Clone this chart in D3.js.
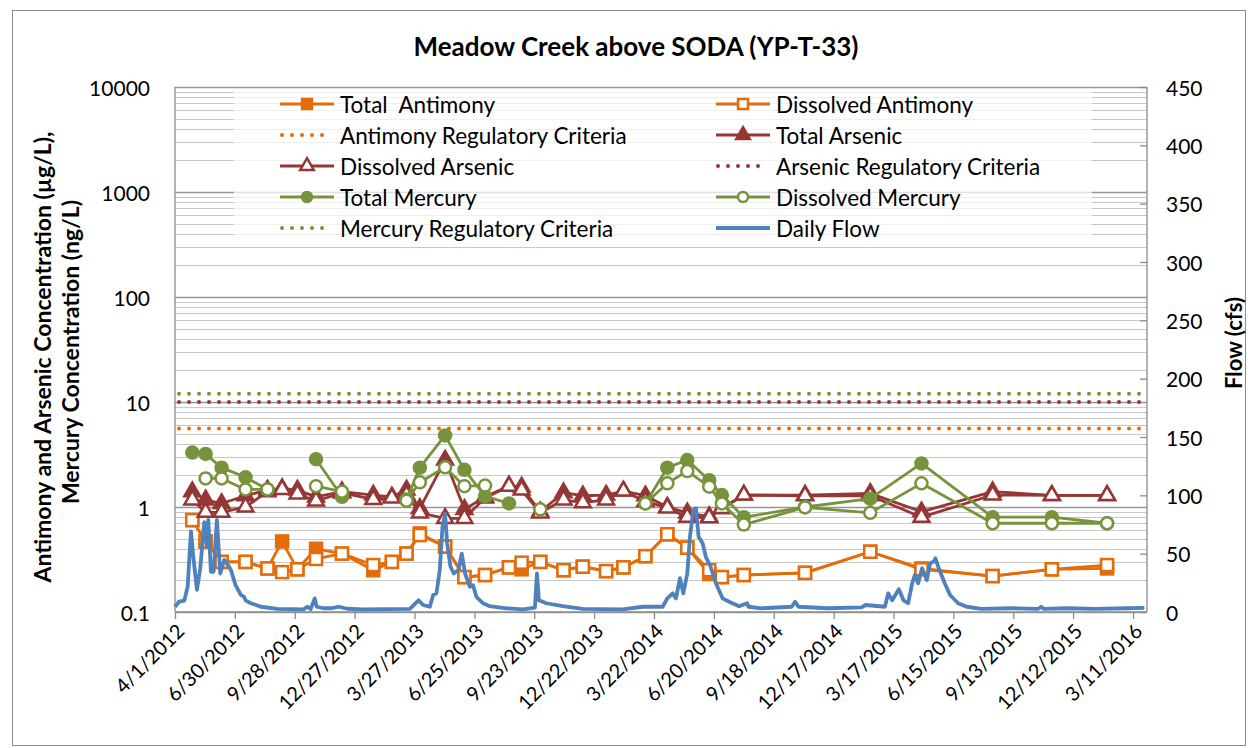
<!DOCTYPE html>
<html>
<head>
<meta charset="utf-8">
<script src="https://d3js.org/d3.v7.min.js"></script>
<style>
  body { margin: 0; background: #fff; }
  text { font-family: Lato, "Open Sans", sans-serif; fill: #000; }
</style>
</head>
<body>
<svg id="grafico" width="1248" height="748"></svg>
<script>
// Datos
var fechasMuestreo = ["2012-04-27","2012-05-17","2012-06-10","2012-07-16","2012-08-18","2012-09-09","2012-10-02","2012-10-30","2012-12-08",
  "2013-01-24","2013-02-21","2013-03-15","2013-04-04","2013-05-12","2013-06-10","2013-07-11","2013-08-16","2013-09-04","2013-10-02",
  "2013-11-06","2013-12-05","2014-01-09","2014-02-04","2014-03-09","2014-04-11","2014-05-11","2014-06-13","2014-07-02","2014-08-04",
  "2014-11-04","2015-02-10","2015-04-28","2015-08-13","2015-11-10","2016-02-01"];
var totalSb =     [0.75,0.47,0.30,0.30,0.26,0.47,0.255,0.40,0.36,0.25,0.30,0.36,0.56,0.42,0.215,0.225,0.266,0.255,0.30,0.25,0.27,0.245,0.266,0.34,0.55,0.41,0.23,0.215,0.225,0.236,0.375,0.26,0.22,0.255,0.26];
var disueltoSb =  [0.75,0.47,0.30,0.30,0.26,0.24,0.255,0.32,0.36,0.28,0.30,0.36,0.54,0.42,0.215,0.225,0.266,0.295,0.30,0.25,0.27,0.245,0.266,0.34,0.55,0.41,0.25,0.215,0.225,0.236,0.375,0.255,0.22,0.255,0.28];
var totalAs =     [1.4,1.17,1.08,1.28,1.45,1.5,1.45,1.25,1.4,1.3,1.25,1.45,0.97,2.8,0.95,1.25,1.58,1.55,0.9,1.37,1.28,1.3,1.42,1.28,1.0,0.88,0.81,0.97,1.3,1.3,1.35,0.9,1.4,1.29,1.29];
var disueltoAs =  [1.17,0.89,0.89,1.0,1.4,1.47,1.33,1.14,1.36,1.18,1.22,1.3,0.88,0.78,0.78,1.22,1.58,1.45,0.88,1.17,1.1,1.17,1.42,1.13,0.98,0.8,0.79,0.97,1.3,1.28,1.28,0.8,1.3,1.29,1.29];
var totalHg =     [3.3,3.2,2.37,1.92,1.47,null,null,2.85,1.25,null,null,1.18,2.37,4.8,2.26,1.27,1.08,null,null,null,null,null,null,1.08,2.37,2.8,1.8,1.3,0.8,1.0,1.2,2.6,0.8,0.8,0.7];
var disueltoHg =  [null,1.87,1.87,1.47,1.47,null,null,1.58,1.4,null,null,1.15,1.72,2.39,1.58,1.6,null,null,0.95,null,null,null,null,1.08,1.68,2.2,1.56,1.08,0.68,0.99,0.88,1.68,0.7,0.7,0.7];
var criterioSb = 5.6, criterioAs = 10, criterioHg = 12;

var fechasCaudal = ["2012-04-01","2012-04-07","2012-04-15","2012-04-20","2012-04-25","2012-04-29","2012-05-04","2012-05-09","2012-05-15",
  "2012-05-19","2012-05-21","2012-05-25","2012-05-29","2012-06-03","2012-06-08","2012-06-14","2012-06-20","2012-06-24","2012-07-01",
  "2012-07-09","2012-07-14","2012-07-16","2012-07-24","2012-08-08","2012-09-02","2012-10-11","2012-10-17","2012-10-22","2012-10-28",
  "2012-10-31","2012-11-10","2012-11-21","2012-12-03","2012-12-16","2013-01-09","2013-03-20","2013-04-02","2013-04-09","2013-04-19",
  "2013-04-24","2013-04-29","2013-05-04","2013-05-08","2013-05-12","2013-05-15","2013-05-20","2013-05-25","2013-06-01","2013-06-06",
  "2013-06-11","2013-06-18","2013-06-23","2013-06-28","2013-07-08","2013-07-18","2013-08-12","2013-09-06","2013-09-24","2013-09-27",
  "2013-09-30","2013-10-11","2013-11-05","2013-12-05","2014-02-03","2014-03-05","2014-04-04","2014-04-11","2014-04-19","2014-04-24",
  "2014-04-30","2014-05-05","2014-05-11","2014-05-15","2014-05-20","2014-05-24","2014-05-28","2014-06-03","2014-06-08","2014-06-15",
  "2014-06-23","2014-07-03","2014-07-13","2014-07-28","2014-08-09","2014-08-11","2014-08-31","2014-10-15","2014-10-20","2014-10-25",
  "2014-12-09","2015-01-28","2015-02-03","2015-03-04","2015-03-09","2015-03-15","2015-03-25","2015-04-01","2015-04-08","2015-04-14",
  "2015-04-18","2015-04-23","2015-04-29","2015-05-06","2015-05-11","2015-05-16","2015-05-19","2015-05-24","2015-06-02","2015-06-10",
  "2015-06-22","2015-07-05","2015-07-27","2015-09-10","2015-10-20","2015-10-25","2015-10-29","2015-12-04","2016-01-13","2016-03-03","2016-03-28"];
var caudal = [4.5,8.8,9.7,21.7,69,44.6,19,37.5,77,56,79,34.5,34.5,79,33,44.6,40,36,23,14.6,13,10,7.5,4.5,2.6,2.3,4.5,2.5,11.7,
  4.5,3.2,3.2,4.5,2.8,2.3,2.6,10,6,4.5,14.6,16,36,73,84,59,39,33,36,50,33,21.7,23,13,7.5,5,3.2,2.3,3.7,33,10,7.5,5,2.6,
  2.3,4.5,4.5,11.7,16,11.7,29,16,33,64.5,87,89,64.5,59,47,39,24.6,11.7,8.8,5,7.5,4.5,3.2,4.5,8.8,4.5,3.2,4,6,4.5,16,10,
  19.5,10,7.5,24.6,31.7,24.6,37.5,27.4,41.7,43,46,37.5,24.6,14.6,7.5,4.5,2.6,3.2,2.6,4.5,2.6,3.2,2.6,3.2,3.5];

var etiquetasX = ["4/1/2012","6/30/2012","9/28/2012","12/27/2012","3/27/2013","6/25/2013","9/23/2013","12/22/2013","3/22/2014",
  "6/20/2014","9/18/2014","12/17/2014","3/17/2015","6/15/2015","9/13/2015","12/12/2015","3/11/2016"];
var ticksIzq = [0.1, 1, 10, 100, 1000, 10000];
var ticksDer = [0, 50, 100, 150, 200, 250, 300, 350, 400, 450];

// Colores de Excel
var naranja = "#E46C0A", granate = "#953735", verde = "#77933C", azul = "#4F81BD";

var svg = d3.select("#grafico");
var izq = 175, der = 1147, arriba = 87, abajo = 612;

var parseISO = d3.timeParse("%Y-%m-%d");
var parseMDY = d3.timeParse("%-m/%-d/%Y");

var x = d3.scaleTime().domain([parseISO("2012-04-01"), parseISO("2016-04-01")]).range([izq, der]);
var y = d3.scaleLog().domain([0.1, 10000]).range([abajo, arriba]);
var y2 = d3.scaleLinear().domain([0, 450]).range([abajo, arriba]);

// Borde del gráfico
svg.append("rect").attr("x", 12.5).attr("y", 10.5).attr("width", 1233).attr("height", 735)
  .attr("fill", "#fff").attr("stroke", "#8c8c8c").attr("stroke-width", 1);

// Rejilla logarítmica
var rejilla = svg.append("g");
var menores = [];
for (var e = -1; e < 4; e++) for (var k = 2; k <= 9; k++) menores.push(k * Math.pow(10, e));
rejilla.selectAll("line.menor").data(menores).enter().append("line")
  .attr("x1", izq).attr("x2", der)
  .attr("y1", d => Math.round(y(d)) + 0.5).attr("y2", d => Math.round(y(d)) + 0.5)
  .attr("stroke", "#c8c8c8").attr("stroke-width", 1);
rejilla.selectAll("line.mayor").data(ticksIzq).enter().append("line")
  .attr("x1", izq).attr("x2", der)
  .attr("y1", d => Math.round(y(d)) + 0.5).attr("y2", d => Math.round(y(d)) + 0.5)
  .attr("stroke", "#969696").attr("stroke-width", 1.5);

// Ejes
var ejeX = d3.axisBottom(x).tickValues(etiquetasX.map(parseMDY)).tickSize(7).tickFormat("");
var gX = svg.append("g").attr("transform", "translate(0," + abajo + ")").call(ejeX);
gX.selectAll("line, path").attr("stroke", "#8c8c8c").attr("stroke-width", 1.3);
gX.select(".domain").attr("d", "M" + izq + ",0H" + der);

svg.append("line").attr("x1", izq).attr("x2", izq).attr("y1", arriba).attr("y2", abajo)
  .attr("stroke", "#8c8c8c").attr("stroke-width", 1.3);

var ejeDer = d3.axisRight(y2).tickValues(ticksDer).tickSize(-7).tickFormat("");
var gD = svg.append("g").attr("transform", "translate(" + der + ",0)").call(ejeDer);
gD.selectAll("line, path").attr("stroke", "#8c8c8c").attr("stroke-width", 1.3);
gD.select(".domain").attr("d", "M0," + arriba + "V" + abajo);

// Etiquetas de los ejes
svg.selectAll("text.ti").data(ticksIzq).enter().append("text")
  .attr("x", 150).attr("y", d => y(d)).attr("text-anchor", "end").attr("dominant-baseline", "central")
  .style("font-size", "21px").text(d => d);
svg.selectAll("text.td").data(ticksDer).enter().append("text")
  .attr("x", 1166).attr("y", d => y2(d)).attr("dominant-baseline", "central")
  .style("font-size", "21px").text(d => d);
svg.selectAll("text.tx").data(etiquetasX).enter().append("text")
  .attr("transform", d => "translate(" + (x(parseMDY(d)) + 5) + "," + (abajo + 15) + ") rotate(-45)")
  .attr("text-anchor", "end").attr("dominant-baseline", "central")
  .style("font-size", "20px").text(d => d);

// Títulos
svg.append("text").attr("x", 636).attr("y", 46).attr("text-anchor", "middle").attr("dominant-baseline", "central")
  .style("font-size", "26px").style("font-weight", "bold").text("Meadow Creek above SODA (YP-T-33)");
svg.append("text").attr("transform", "translate(42,357) rotate(-90)").attr("text-anchor", "middle")
  .attr("dominant-baseline", "central").style("font-size", "23px").style("font-weight", "bold")
  .text("Antimony and Arsenic Concentration (µg/L),");
svg.append("text").attr("transform", "translate(70,352) rotate(-90)").attr("text-anchor", "middle")
  .attr("dominant-baseline", "central").style("font-size", "23px").style("font-weight", "bold")
  .text("Mercury Concentration (ng/L)");
svg.append("text").attr("transform", "translate(1233,343) rotate(-90)").attr("text-anchor", "middle")
  .attr("dominant-baseline", "central").style("font-size", "22px").style("font-weight", "bold")
  .text("Flow (cfs)");

// Series
var fechas = fechasMuestreo.map(parseISO);
function serie(valores) {
  return valores.map((v, i) => ({ fecha: fechas[i], v: v }));
}
var linea = d3.line().defined(d => d.v != null).x(d => x(d.fecha)).y(d => y(d.v));

function marcador(g, tipo, color, relleno, tam) {
  if (tipo == "cuadrado") {
    return g.append("rect").attr("x", -tam / 2).attr("y", -tam / 2).attr("width", tam).attr("height", tam)
      .attr("fill", relleno).attr("stroke", color).attr("stroke-width", 2.5);
  } else if (tipo == "circulo") {
    return g.append("circle").attr("r", tam / 2).attr("fill", relleno).attr("stroke", color).attr("stroke-width", 2.5);
  } else {
    return g.append("path").attr("d", d3.symbol().type(d3.symbolTriangle).size(tam * tam * 0.55)())
      .attr("fill", relleno).attr("stroke", color).attr("stroke-width", 2.5);
  }
}

function dibujarSerie(valores, color, tipo, relleno) {
  var datos = serie(valores);
  var g = svg.append("g");
  g.append("path").datum(datos).attr("d", linea).attr("fill", "none")
    .attr("stroke", color).attr("stroke-width", 2.8).attr("stroke-linejoin", "round");
  datos.filter(d => d.v != null).forEach(d => {
    var m = g.append("g").attr("transform", "translate(" + x(d.fecha) + "," + y(d.v) + ")");
    marcador(m, tipo, color, relleno, tipo == "triangulo" ? 14 : 12);
  });
}

function dibujarCriterio(valor, color) {
  svg.append("line").attr("x1", izq + 4).attr("x2", der).attr("y1", y(valor)).attr("y2", y(valor))
    .attr("stroke", color).attr("stroke-width", 4).attr("stroke-linecap", "round")
    .attr("stroke-dasharray", "0 10");
}

dibujarSerie(totalSb, naranja, "cuadrado", naranja);
dibujarSerie(disueltoSb, naranja, "cuadrado", "#fff");
dibujarCriterio(criterioSb, naranja);
dibujarSerie(totalAs, granate, "triangulo", granate);
dibujarSerie(disueltoAs, granate, "triangulo", "#fff");
dibujarCriterio(criterioAs, granate);
dibujarSerie(totalHg, verde, "circulo", verde);
dibujarSerie(disueltoHg, verde, "circulo", "#fff");
dibujarCriterio(criterioHg, verde);

// Caudal diario (eje secundario)
var datosCaudal = fechasCaudal.map((f, i) => ({ fecha: parseISO(f), v: caudal[i] }));
svg.append("path").datum(datosCaudal)
  .attr("d", d3.line().x(d => x(d.fecha)).y(d => y2(d.v)))
  .attr("fill", "none").attr("stroke", azul).attr("stroke-width", 3.8).attr("stroke-linejoin", "round");

// Leyenda
var leyenda = [
  { nombre: "Total\u00A0 Antimony", color: naranja, tipo: "cuadrado", relleno: naranja },
  { nombre: "Dissolved Antimony", color: naranja, tipo: "cuadrado", relleno: "#fff" },
  { nombre: "Antimony Regulatory Criteria", color: naranja, tipo: "puntos" },
  { nombre: "Total Arsenic", color: granate, tipo: "triangulo", relleno: granate },
  { nombre: "Dissolved Arsenic", color: granate, tipo: "triangulo", relleno: "#fff" },
  { nombre: "Arsenic Regulatory Criteria", color: granate, tipo: "puntos" },
  { nombre: "Total Mercury", color: verde, tipo: "circulo", relleno: verde },
  { nombre: "Dissolved Mercury", color: verde, tipo: "circulo", relleno: "#fff" },
  { nombre: "Mercury Regulatory Criteria", color: verde, tipo: "puntos" },
  { nombre: "Daily Flow", color: azul, tipo: "flujo" }
];
svg.append("rect").attr("x", 234).attr("y", 89).attr("width", 858).attr("height", 155)
  .attr("fill", "#fff").attr("fill-opacity", 0.7);
leyenda.forEach((d, i) => {
  var col = i % 2, fila = Math.floor(i / 2);
  var lx = col == 0 ? 280 : 716, ly = 104 + fila * 31;
  var g = svg.append("g").attr("transform", "translate(" + lx + "," + ly + ")");
  if (d.tipo == "puntos") {
    g.append("line").attr("x1", 2).attr("x2", 52).attr("stroke", d.color).attr("stroke-width", 4)
      .attr("stroke-linecap", "round").attr("stroke-dasharray", "0 10");
  } else if (d.tipo == "flujo") {
    g.append("line").attr("x1", 0).attr("x2", 54).attr("stroke", d.color).attr("stroke-width", 4);
  } else {
    g.append("line").attr("x1", 0).attr("x2", 54).attr("stroke", d.color).attr("stroke-width", 2.8);
    var m = g.append("g").attr("transform", "translate(27,0)");
    marcador(m, d.tipo, d.color, d.relleno, d.tipo == "triangulo" ? 12 : 10);
  }
  g.append("text").attr("x", 60).attr("y", 0).attr("dominant-baseline", "central")
    .style("font-size", "22.5px").text(d.nombre);
});
</script>
</body>
</html>
